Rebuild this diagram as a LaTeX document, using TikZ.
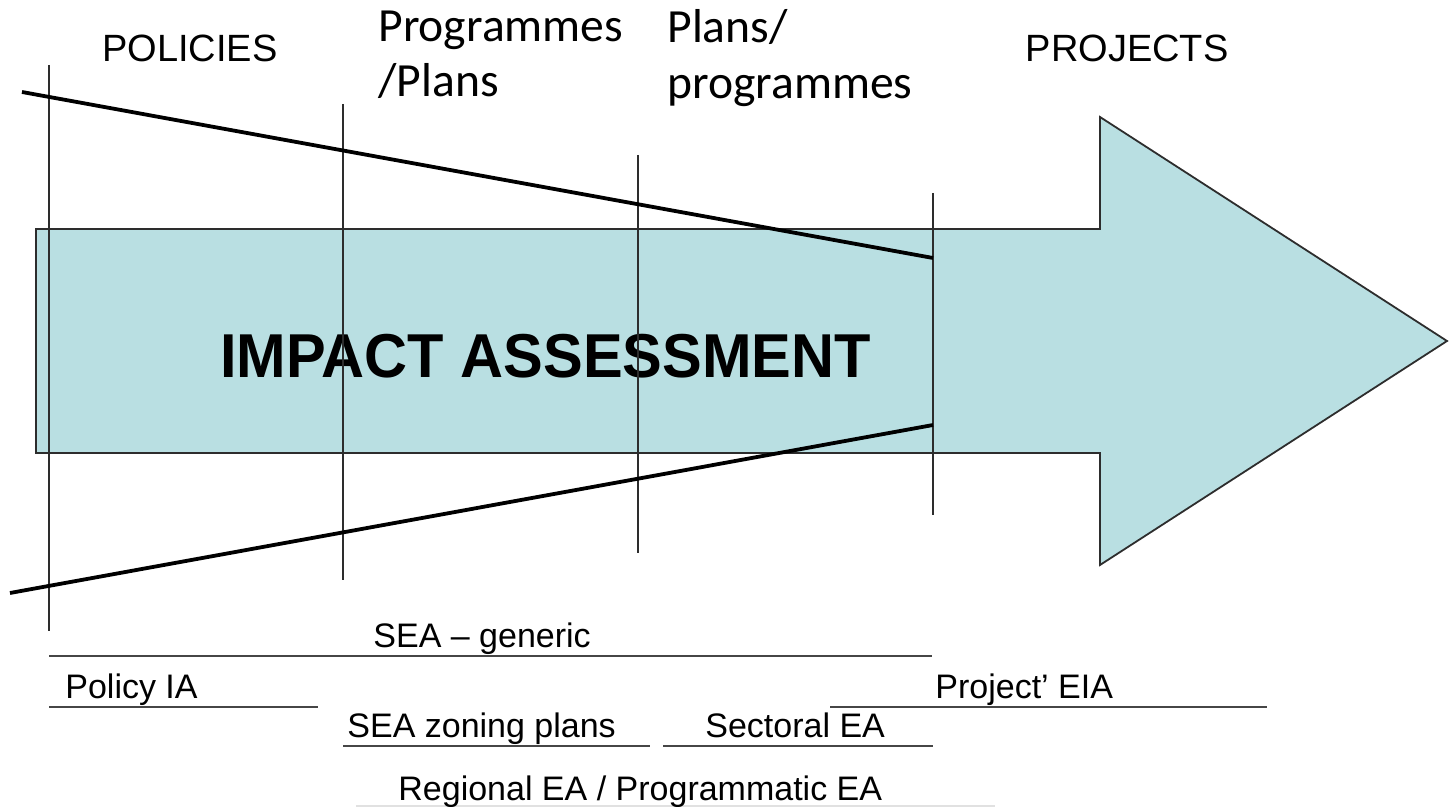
\documentclass[tikz,border=0pt]{standalone}
\usepackage{fontspec}
\setmainfont{Liberation Sans}
\newfontfamily\calib{Carlito}
\newfontfamily\boldnarrow[FakeStretch=0.96]{Liberation Sans}
\definecolor{fillteal}{RGB}{185,223,226}
\definecolor{edgegrey}{RGB}{45,45,45}
\definecolor{barline}{RGB}{70,70,70}
\definecolor{faint}{RGB}{225,225,225}
\begin{document}
\begin{tikzpicture}[x=0.5pt,y=-0.5pt,
  arrowbody/.style={fill=fillteal,draw=edgegrey,line width=0.9pt,line join=miter},
  stage/.style={draw=edgegrey,line width=0.9pt},
  funnel/.style={draw=black,line width=1.9pt},
  bar/.style={draw=barline,line width=1.4pt},
  toplab/.style={inner sep=0pt,font=\fontsize{19pt}{22pt}\selectfont},
  callab/.style={inner sep=0pt,anchor=base west,font=\calib\fontsize{23.8pt}{28pt}\selectfont},
  barlab/.style={inner sep=0pt,anchor=base west,font=\fontsize{17pt}{20pt}\selectfont},
  bigtitle/.style={inner sep=0pt,anchor=base west,font=\boldnarrow\bfseries\fontsize{31pt}{36pt}\selectfont}]
\useasboundingbox (0,0) rectangle (1451,807);

% big arrow
\coordinate (aTL) at (36,229);
\coordinate (aSTop) at (1100,229);
\coordinate (aHTop) at (1100,117);
\coordinate (aTip) at (1447,341);
\coordinate (aHBot) at (1100,565);
\coordinate (aSBot) at (1100,453);
\coordinate (aBL) at (36,453);
\draw[arrowbody] (aTL) -- (aSTop) -- (aHTop) -- (aTip) -- (aHBot) -- (aSBot) -- (aBL) -- cycle;

\node[bigtitle] (ia) at (220,378) {IMPACT ASSESSMENT};

% vertical stage lines
\coordinate (v1t) at (49,65);   \coordinate (v1b) at (49,631);
\coordinate (v2t) at (343,104); \coordinate (v2b) at (343,580);
\coordinate (v3t) at (638,155); \coordinate (v3b) at (638,553);
\coordinate (v4t) at (933,193); \coordinate (v4b) at (933,515);
\draw[stage] (v1t) -- (v1b);
\draw[stage] (v2t) -- (v2b);
\draw[stage] (v3t) -- (v3b);
\draw[stage] (v4t) -- (v4b);

% funnel lines
\coordinate (fTs) at (22,92);  \coordinate (fTe) at (933,258);
\coordinate (fBs) at (10,593); \coordinate (fBe) at (933,425);
\draw[funnel] (fTs) -- (fTe);
\draw[funnel] (fBs) -- (fBe);

% top labels
\node[toplab,anchor=base] (pol) at (190,62) {POLICIES};
\node[toplab,anchor=base] (proj) at (1127,62) {PROJECTS};
\node[callab] (pp1) at (378,42) {Programmes};
\node[callab] (pp2) at (378,97) {/Plans};
\node[callab] (pl1) at (667,43) {Plans/};
\node[callab] (pl2) at (667,99) {programmes};

% bottom bars
\coordinate (gA) at (49,656);  \coordinate (gB) at (932,656);
\coordinate (pA) at (49,707);  \coordinate (pB) at (318,707);
\coordinate (zA) at (343,746); \coordinate (zB) at (650,746);
\coordinate (sA) at (663,746); \coordinate (sB) at (933,746);
\coordinate (eA) at (830,707); \coordinate (eB) at (1267,707);
\coordinate (rA) at (356,806); \coordinate (rB) at (995,806);
\draw[bar] (gA) -- (gB);
\draw[bar] (pA) -- (pB);
\draw[bar] (zA) -- (zB);
\draw[bar] (sA) -- (sB);
\draw[bar] (eA) -- (eB);
\draw[draw=faint,line width=1pt] (rA) -- (rB);

\node[barlab] (lg) at (373,647) {SEA – generic};
\node[barlab] (lp) at (65,698) {Policy IA};
\node[barlab] (lz) at (347,737) {SEA zoning plans};
\node[barlab] (ls) at (705,737) {Sectoral EA};
\node[barlab] (le) at (935,698) {Project’ EIA};
\node[barlab] (lr) at (398,800) {Regional EA / Programmatic EA};
\end{tikzpicture}
\end{document}
